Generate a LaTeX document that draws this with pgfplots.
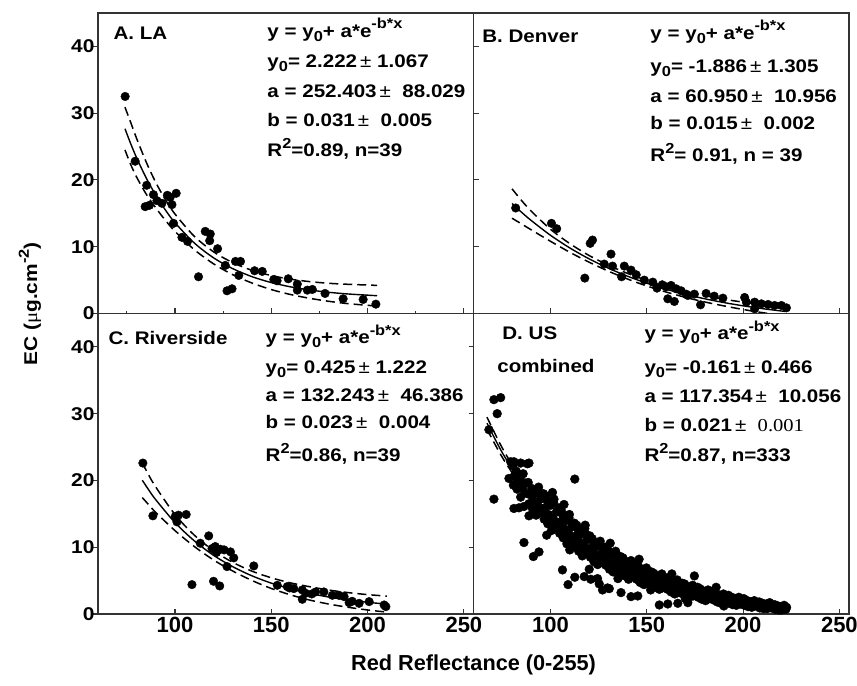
\documentclass[border=0pt]{standalone}
\usepackage{fontspec}
\setmainfont{Liberation Sans}
\newfontfamily\widesans{Liberation Sans}[FakeStretch=1.13]
\newfontfamily\wideserif{Liberation Serif}[FakeStretch=1.13]
\usepackage{pgfplots}
\usepackage{pgfplotstable}
\pgfplotsset{compat=1.18}
\usepgfplotslibrary{groupplots}

\newcommand{\annfont}{\widesans\bfseries\fontsize{18.2}{20}\selectfont}
\newcommand{\PM}{{\mdseries ±}}
\newcommand{\sups}[1]{\raisebox{0.45em}{\fontsize{14.5}{14.5}\selectfont #1}}
\newcommand{\subs}[1]{\raisebox{-0.22em}{\fontsize{14.5}{14.5}\selectfont #1}}

% fitted curves and confidence bands
\pgfplotstableread{
x    fit    lo     hi
74   27.67  24.50  30.90
77   25.42  22.30  28.60
80   23.35  20.45  26.25
85   20.32  17.90  22.70
90   17.72  15.82  19.62
95   15.50  13.95  17.05
100  13.59  12.29  14.89
110  10.56   9.56  11.56
120   8.34   7.44   9.24
130   6.71   5.81   7.61
140   5.51   4.56   6.46
150   4.63   3.58   5.68
160   3.99   2.84   5.14
170   3.52   2.27   4.77
180   3.17   1.82   4.52
190   2.92   1.47   4.37
205   2.66   1.11   4.21
}\fitA

\pgfplotstableread{
x    fit    lo     hi
80   16.47  14.27  18.67
85   15.15  13.40  16.90
90   13.92  12.52  15.32
100  11.71  10.81  12.61
110   9.82   9.17  10.47
120   8.19   7.69   8.69
130   6.79   6.34   7.24
140   5.58   5.16   6.00
150   4.54   4.12   4.96
160   3.64   3.22   4.06
170   2.87   2.42   3.32
180   2.21   1.73   2.69
190   1.64   1.14   2.14
200   1.15   0.60   1.70
210   0.73   0.13   1.33
222   0.30  -0.35   0.95
}\fitB

\pgfplotstableread{
x    fit    lo     hi
83   20.03  17.43  22.63
86.5 18.51  16.31  20.71
90   17.11  15.21  19.01
100  13.68  12.48  14.88
110  10.96  10.11  11.81
120   8.79   8.09   9.49
130   7.08   6.43   7.73
140   5.71   5.01   6.41
150   4.62   3.82   5.42
160   3.76   2.86   4.66
170   3.08   2.08   4.08
180   2.53   1.48   3.58
190   2.10   1.00   3.20
200   1.75   0.60   2.90
210   1.48   0.28   2.68
}\fitC

\pgfplotstableread{
x    fit    lo     hi
67   28.58  27.68  29.48
75   24.13  23.43  24.83
85   19.53  19.03  20.03
90   17.57  17.12  18.02
100  14.21  13.86  14.56
110  11.49  11.19  11.79
120   9.28   9.03   9.53
130   7.49   7.24   7.74
140   6.04   5.79   6.29
150   4.87   4.62   5.12
160   3.92   3.67   4.17
170   3.14   2.89   3.39
180   2.52   2.27   2.77
190   2.01   1.71   2.31
200   1.60   1.30   1.90
210   1.27   0.92   1.62
222   0.95   0.55   1.35
}\fitD

\pgfplotsset{
  pts/.style={only marks, mark=*, mark size=4.3pt, black},
  fitline/.style={black, line width=1.4pt, smooth, no marks},
  band/.style={black, line width=1.5pt, smooth, no marks, dash pattern=on 9pt off 5pt},
}
\tikzset{ann/.style={anchor=base west, inner sep=0pt, font=\annfont}}

\begin{document}
\begin{tikzpicture}
\begin{groupplot}[
  group style={group name=G, group size=2 by 2,
    horizontal sep=0pt, vertical sep=0pt,
    xticklabels at=edge bottom, yticklabels at=edge left},
  width=375.5pt, height=300.5pt, scale only axis,
  xmin=60, xmax=255, ymin=0, ymax=45,
  xtick={100,150,200,250}, ytick={0,10,20,30,40},
  tick align=inside, xtick pos=bottom, ytick pos=left,
  major tick length=5pt, minor tick length=2.7pt,
  axis line style={black!80, line width=1.1pt},
  tick style={black!80, line width=1.1pt},
  xticklabel style={font=\bfseries\fontsize{22}{22}\selectfont},
  yticklabel style={font=\widesans\bfseries\fontsize{18.5}{18.5}\selectfont},
  /pgf/number format/assume math mode=true,
  clip mode=individual,
]
% A. LA
\nextgroupplot[minor xtick={75,125,175,225}, y tick style={xshift=-5pt}]
\addplot[pts] coordinates {
 (74.1,32.5) (79.3,22.8) (85.3,19.2) (84.5,16.0) (86.7,16.2) (88.8,17.8)
 (90.6,16.9) (93.2,16.5) (96.0,17.7) (97.5,17.4) (100.6,18.0) (98.4,16.3)
 (99.2,13.5) (103.6,11.4) (106.5,10.8) (112.2,5.5) (115.7,12.3) (118.3,11.9)
 (118.0,10.9) (122.1,9.7) (127.0,3.4) (129.6,3.7) (126.1,7.2) (131.4,7.8)
 (134.0,7.8) (133.1,5.7) (141.3,6.4) (145.3,6.3) (151.3,5.1) (153.0,4.9)
 (158.8,5.2) (163.5,4.4) (163.5,3.5) (168.7,3.5) (171.3,3.6) (177.9,3.0)
 (187.3,2.2) (197.7,2.1) (204.3,1.4)
};
\addplot[fitline] table[x=x,y=fit]{\fitA};
\addplot[band] table[x=x,y=lo]{\fitA};
\addplot[band] table[x=x,y=hi]{\fitA};
\node[ann] at (axis cs:68,41.1) {A. LA};
\node[ann] at (axis cs:147.9,41.4) {y = y\subs{0}+ a*e\sups{-b*x}};
\node[ann] at (axis cs:147.9,36.9) {y\subs{0}= 2.222\,\PM\ 1.067};
\node[ann] at (axis cs:147.9,32.4) {a = 252.403\,\PM\ \ 88.029};
\node[ann] at (axis cs:147.9,28.0) {b = 0.031\,\PM\ \ 0.005};
\node[ann] at (axis cs:147.9,23.5) {R\sups{2}=0.89, n=39};

% B. Denver
\nextgroupplot
\addplot[pts] coordinates {
 (81.9,15.8) (100.5,13.5) (103.2,12.7) (117.8,5.3) (120.6,10.5) (121.8,11.0)
 (131.4,8.9) (127.9,7.4) (132.2,7.1) (138.3,7.1) (141.8,6.5) (136.9,5.5)
 (144.5,5.8) (148.7,5.0) (153.1,4.7) (155.3,3.8) (158.0,4.3) (160.0,4.0)
 (162.6,4.2) (165.2,3.7) (167.8,3.4) (171.3,2.7) (160.9,2.2) (164.3,1.8)
 (170.4,2.9) (174.7,2.9) (177.9,1.3) (180.8,3.0) (185.0,2.6) (189.5,2.3)
 (200.8,2.4) (201.7,1.7) (206.0,1.7) (206.0,0.7) (209.5,1.45) (213.0,1.35)
 (216.4,1.2) (219.9,1.2) (222.5,0.85)
};
\addplot[fitline] table[x=x,y=fit]{\fitB};
\addplot[band] table[x=x,y=lo]{\fitB};
\addplot[band] table[x=x,y=hi]{\fitB};
\node[ann] at (axis cs:64.5,40.6) {B. Denver};
\node[ann] at (axis cs:151.8,41.1) {y = y\subs{0}+ a*e\sups{-b*x}};
\node[ann] at (axis cs:151.8,36.1) {y\subs{0}= -1.886\,\PM\ 1.305};
\node[ann] at (axis cs:151.8,31.6) {a = 60.950\,\PM\ \ 10.956};
\node[ann] at (axis cs:151.8,27.6) {b = 0.015\,\PM\ \ 0.002};
\node[ann] at (axis cs:151.8,22.7) {R\sups{2}= 0.91, n = 39};

% C. Riverside
\nextgroupplot[y tick style={xshift=-5pt}]
\addplot[pts] coordinates {
 (83.3,22.6) (88.5,14.7) (100.1,14.6) (101.8,14.8) (101.0,13.8) (105.8,14.9)
 (108.8,4.4) (113.1,10.6) (117.5,11.7) (119.2,9.8) (120.9,10.1) (121.5,9.2)
 (123.5,9.7) (125.5,9.6) (120.0,4.9) (123.2,4.2) (128.8,9.3) (130.5,8.4)
 (127.0,7.1) (140.9,7.2) (153.1,4.3) (158.3,4.1) (159.5,3.9) (161.7,3.8)
 (166.1,3.6) (166.1,2.2) (167.8,3.1) (171.0,3.0) (173.0,3.3) (177.3,3.3)
 (181.7,2.8) (185.2,2.8) (187.8,2.6) (190.4,1.7) (192.0,1.9) (195.6,1.6)
 (200.8,1.85) (208.6,1.35) (209.5,1.1)
};
\addplot[fitline] table[x=x,y=fit]{\fitC};
\addplot[band] table[x=x,y=lo]{\fitC};
\addplot[band] table[x=x,y=hi]{\fitC};
\node[ann] at (axis cs:65.4,40.4) {C. Riverside};
\node[ann] at (axis cs:147,40.5) {y = y\subs{0}+ a*e\sups{-b*x}};
\node[ann] at (axis cs:147,36.0) {y\subs{0}= 0.425\,\PM\ 1.222};
\node[ann] at (axis cs:147,31.8) {a = 132.243\,\PM\ \ 46.386};
\node[ann] at (axis cs:147,27.8) {b = 0.023\,\PM\ \ 0.004};
\node[ann] at (axis cs:147,22.8) {R\sups{2}=0.86, n=39};

% D. US combined
\nextgroupplot[y tick style={xshift=-5pt}]
\addplot[pts, mark size=4.4pt] coordinates {
 (70.6,32.1) (74.1,32.4) (72.3,30.0) (68.0,27.6) (70.6,17.2) (78.4,20.3)
 (79.3,22.8) (81.0,22.8) (84.5,22.6) (88.0,22.5) (88.8,22.6) (81.0,15.8)
 (83.6,15.9) (86.2,16.1) (88.8,14.7) (86.2,10.7) (91.1,8.6) (94.0,9.3)
 (106.2,6.6) (109.1,4.4) (112.6,5.5) (112.6,20.2) (117.5,5.6) (120.1,6.7)
 (120.9,5.2) (124.4,5.3) (125.3,4.5) (127.0,3.6) (129.6,3.9) (130.5,3.8)
 (136.6,3.2) (141.8,2.6) (145.3,2.7) (174.7,5.7) (156.5,1.35) (160.9,1.5)
 (166.1,1.6) (171.3,1.7)
 (101,18.2) (107,16.4) (118,13.3) (131,10.6) (146,8.2) (163,6.0) (186,4.0)
 (98,11.8) (110,9.6) (135,5.3) (152,3.6) (170,2.3) (190,1.2)
 (80.4,22.2) (82.2,21.4) (81.1,20.6) (83.0,19.8) (80.7,19.3) (82.6,18.7)
 (85.8,21.0) (84.2,20.3) (87.1,19.6) (85.4,18.8) (86.7,18.1) (84.5,17.5)
 (88.4,19.7) (90.2,18.8) (89.1,17.9) (91.0,17.0) (88.7,16.5) (90.6,15.8)
 (93.8,19.0) (92.2,18.1) (95.1,17.3) (93.4,16.3) (94.7,15.5) (92.5,14.8)
 (96.4,18.0) (98.2,17.0) (97.1,15.9) (99.0,14.9) (96.7,14.2) (98.6,13.5)
 (101.8,17.2) (100.2,16.3) (103.1,15.3) (101.4,14.3) (102.7,13.3) (100.5,12.5)
 (104.4,15.9) (106.2,14.9) (105.1,13.8) (107.0,12.8) (104.7,12.1) (106.6,11.4)
 (109.8,14.9) (108.2,14.0) (111.1,13.1) (109.4,12.1) (110.7,11.2) (108.5,10.5)
 (112.4,13.6) (114.2,12.7) (113.1,11.7) (115.0,10.8) (112.7,10.2) (114.6,9.4)
 (117.8,12.8) (116.2,12.0) (119.1,11.2) (117.4,10.2) (118.7,9.4) (116.5,8.7)
 (120.4,11.7) (122.2,10.8) (121.1,9.9) (123.0,9.0) (120.7,8.5) (122.6,7.8)
 (125.8,10.9) (124.2,10.2) (127.1,9.5) (125.4,8.7) (126.7,8.0) (124.5,7.4)
 (128.4,10.0) (130.2,9.3) (129.1,8.5) (131.0,7.7) (128.7,7.3) (130.6,6.7)
 (133.8,9.4) (132.2,8.8) (135.1,8.2) (133.4,7.4) (134.7,6.8) (132.5,6.3)
 (136.4,8.6) (138.2,8.0) (137.1,7.3) (139.0,6.6) (136.7,6.2) (138.6,5.7)
 (141.8,8.0) (140.2,7.5) (143.1,6.9) (141.4,6.3) (142.7,5.7) (140.5,5.2)
 (144.4,7.4) (146.2,6.8) (145.1,6.2) (147.0,5.6) (144.7,5.2) (146.6,4.7)
 (149.8,6.9) (148.2,6.4) (151.1,5.9) (149.4,5.3) (150.7,4.8) (148.5,4.4)
 (152.4,6.3) (154.2,5.8) (153.1,5.3) (155.0,4.7) (152.7,4.4) (154.6,4.0)
 (157.8,6.0) (156.2,5.5) (159.1,5.1) (157.4,4.5) (158.7,4.1) (156.5,3.7)
 (160.4,5.4) (162.2,4.9) (161.1,4.5) (163.0,4.0) (160.7,3.7) (162.6,3.3)
 (165.8,5.1) (164.2,4.7) (167.1,4.2) (165.4,3.8) (166.7,3.3) (164.5,3.0)
 (168.4,4.6) (170.2,4.2) (169.1,3.8) (171.0,3.3) (168.7,3.0) (170.6,2.7)
 (173.8,4.3) (172.2,4.0) (175.1,3.6) (173.4,3.2) (174.7,2.9) (172.5,2.6)
 (176.4,4.0) (178.2,3.6) (177.1,3.2) (179.0,2.8) (176.7,2.5) (178.6,2.2)
 (181.8,3.6) (180.2,3.3) (183.1,3.0) (181.4,2.6) (182.7,2.3) (180.5,2.0)
 (184.4,3.4) (186.2,3.0) (185.1,2.6) (187.0,2.3) (184.7,2.1) (186.6,1.8)
 (189.8,3.0) (188.2,2.7) (191.1,2.5) (189.4,2.1) (190.7,1.9) (188.5,1.6)
 (192.4,2.8) (194.2,2.5) (193.1,2.1) (195.0,1.8) (192.7,1.6) (194.6,1.4)
 (197.8,2.5) (196.2,2.3) (199.1,2.0) (197.4,1.8) (198.7,1.5) (196.5,1.3)
 (200.4,2.3) (202.2,2.0) (201.1,1.7) (203.0,1.5) (200.7,1.3) (202.6,1.1)
 (205.8,2.0) (204.2,1.8) (207.1,1.6) (205.4,1.4) (206.7,1.2) (204.5,1.0)
 (208.4,1.8) (210.2,1.6) (209.1,1.3) (211.0,1.1) (208.7,0.9) (210.6,0.8)
 (213.8,1.7) (212.2,1.5) (215.1,1.3) (213.4,1.1) (214.7,0.9) (212.5,0.8)
 (216.4,1.4) (218.2,1.2) (217.1,1.0) (219.0,0.8) (216.7,0.7) (218.6,0.6)
 (221.3,1.3) (219.7,1.1) (222.6,1.0) (220.9,0.8) (222.2,0.7) (220.0,0.6)
 (93.6,18.5) (95.4,17.3) (92.2,16.2) (94.0,15.1)
 (97.6,17.6) (99.4,16.3) (96.2,15.2) (98.0,14.0)
 (101.6,16.7) (103.4,15.3) (100.2,14.1) (102.0,12.9)
 (105.6,15.5) (107.4,14.2) (104.2,13.1) (106.0,11.9)
 (109.6,14.4) (111.4,13.1) (108.2,12.0) (110.0,10.9)
 (113.6,13.3) (115.4,12.1) (112.2,11.0) (114.0,9.9)
 (117.6,12.3) (119.4,11.2) (116.2,10.1) (118.0,9.1)
 (121.6,11.3) (123.4,10.2) (120.2,9.3) (122.0,8.3)
 (125.6,10.5) (127.4,9.5) (124.2,8.6) (126.0,7.7)
 (129.6,9.7) (131.4,8.8) (128.2,7.9) (130.0,7.1)
 (133.6,9.1) (135.4,8.2) (132.2,7.4) (134.0,6.5)
 (137.6,8.4) (139.4,7.5) (136.2,6.8) (138.0,6.0)
 (141.6,7.7) (143.4,6.9) (140.2,6.2) (142.0,5.5)
 (145.6,7.2) (147.4,6.4) (144.2,5.7) (146.0,5.0)
 (149.6,6.6) (151.4,5.9) (148.2,5.3) (150.0,4.6)
 (153.6,6.1) (155.4,5.5) (152.2,4.9) (154.0,4.3)
 (157.6,5.7) (159.4,5.1) (156.2,4.5) (158.0,3.9)
 (161.6,5.2) (163.4,4.6) (160.2,4.1) (162.0,3.6)
 (165.6,4.8) (167.4,4.2) (164.2,3.7) (166.0,3.2)
 (169.6,4.5) (171.4,3.9) (168.2,3.4) (170.0,2.9)
 (173.6,4.1) (175.4,3.6) (172.2,3.2) (174.0,2.7)
 (177.6,3.8) (179.4,3.3) (176.2,2.9) (178.0,2.4)
};
\addplot[fitline] table[x=x,y=fit]{\fitD};
\addplot[band] table[x=x,y=lo]{\fitD};
\addplot[band] table[x=x,y=hi]{\fitD};
\node[ann] at (axis cs:74.9,41.1) {D. US};
\node[ann] at (axis cs:72.3,36.1) {combined};
\node[ann] at (axis cs:148.7,41.1) {y = y\subs{0}+ a*e\sups{-b*x}};
\node[ann] at (axis cs:148.7,36.0) {y\subs{0}= -0.161\,\PM\ 0.466};
\node[ann] at (axis cs:148.7,31.6) {a = 117.354\,\PM\ \ 10.056};
\node[ann] at (axis cs:148.7,27.4) {b = 0.021\,\PM\ \ {\wideserif\mdseries 0.001}};
\node[ann] at (axis cs:148.7,22.8) {R\sups{2}=0.87, n=333};
\end{groupplot}

\node[font=\bfseries\fontsize{21.7}{22}\selectfont]
  at ([yshift=-51pt]G c1r2.south east) {Red Reflectance (0-255)};
\node[rotate=90, font=\widesans\bfseries\fontsize{18.5}{18.5}\selectfont]
  at ([xshift=-68pt,yshift=9.5pt]G c1r2.north west)
  {EC ({\wideserif\mdseries μ}g.cm\sups{-2})};

\pgfresetboundingbox
\path[use as bounding box] ([xshift=-98pt,yshift=13pt]G c1r1.north west)
  rectangle ([xshift=8pt,yshift=-72pt]G c2r2.south east);
\end{tikzpicture}
\end{document}
